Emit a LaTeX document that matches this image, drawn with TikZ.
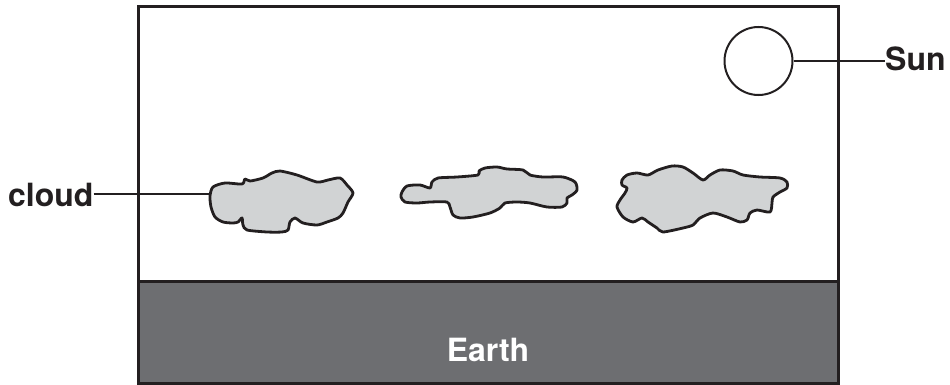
\documentclass[tikz,border=0pt]{standalone}
\usepackage{fontspec}
\setmainfont{TeX Gyre Heros}
\definecolor{cloudgray}{HTML}{D1D3D4}
\definecolor{earthgray}{HTML}{6D6E71}
\definecolor{ink}{HTML}{231F20}
\begin{document}
\begin{tikzpicture}[x=1pt,y=-1pt,
  frame/.style={draw=ink,line width=3pt},
  cloudshape/.style={draw=ink,fill=cloudgray,line width=2.8pt,line join=round},
  leader/.style={draw=ink,line width=2pt},
  lbl/.style={inner sep=0pt,font=\fontsize{32}{32}\selectfont\bfseries,text=ink}]
\useasboundingbox (0,0) rectangle (950,385);

% ground strip
\fill[earthgray] (138.5,281.5) rectangle (838.5,383.5);
\draw[frame] (138.5,281.5) -- (838.5,281.5);
\node[lbl,text=white,anchor=base] (earth) at (488,361) {Earth};

% sky frame
\draw[frame] (138.5,6.5) rectangle (838.5,383.5);

% sun
\node[draw=ink,line width=2pt,circle,minimum size=68pt,inner sep=0pt] (sun) at (758.5,61) {};
\node[lbl,anchor=base west] (sunlbl) at (885,71) {Sun};
\draw[leader] (sun.east) -- (sun.east -| sunlbl.west);

% clouds
\draw[cloudshape] plot[smooth cycle,tension=0.45] coordinates {
  (210,196) (213,187) (225,183) (242,184) (245,179) (250,181) (263,178)
  (272,173) (280,171) (297,175) (317,182) (328,180) (340,178) (347,185)
  (353,193) (348,202) (343,213) (338,218) (327,222) (317,225) (303,223)
  (295,218) (290,222) (288,230) (282,232) (267,232) (247,230) (243,225)
  (242,218) (238,222) (233,223) (223,222) (215,217) (211,207)};
\coordinate (c1tip) at (211,195);

\draw[cloudshape] plot[smooth cycle,tension=0.45] coordinates {
  (402,192) (407,186) (420,185) (430,188) (432,182) (438,178) (457,177)
  (478,175) (479,171) (485,168) (497,167) (507,169) (523,170) (530,175)
  (543,177) (563,177) (575,182) (577,190) (572,195) (567,198) (567,203)
  (562,207) (547,207) (530,203) (517,202) (505,203) (500,208) (490,213)
  (473,217) (460,218) (453,215) (450,207) (447,202) (430,202) (417,203)
  (405,202) (401,197)};

\draw[cloudshape] plot[smooth cycle,tension=0.45] coordinates {
  (622,180) (627,175) (637,173) (648,175) (658,170) (672,166) (683,167)
  (693,173) (703,180) (710,175) (720,170) (733,171) (743,175) (760,177)
  (780,178) (787,182) (787,188) (780,192) (773,197) (772,203) (770,212)
  (757,210) (750,213) (747,220) (740,222) (727,217) (713,213) (700,218)
  (693,225) (683,228) (663,232) (657,228) (648,222) (642,218) (633,222)
  (623,217) (617,207) (620,200) (625,193) (627,188) (622,185)};

% cloud label
\node[lbl,anchor=base west] (cloudlbl) at (8,206) {cloud};
\draw[leader] (cloudlbl.east) -- (cloudlbl.east -| c1tip);
\end{tikzpicture}
\end{document}
